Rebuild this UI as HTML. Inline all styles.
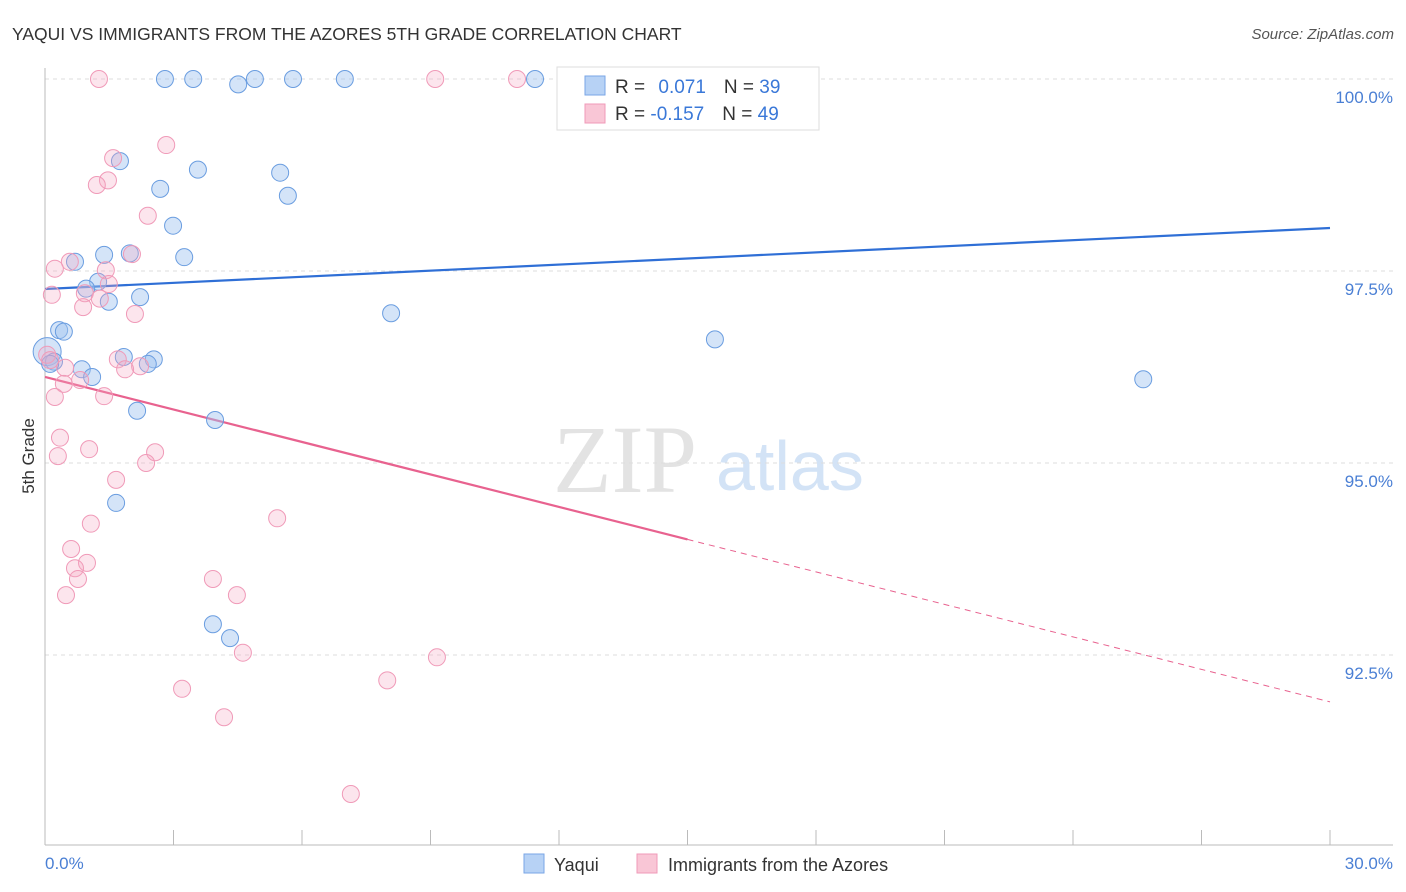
<!DOCTYPE html>
<html><head><meta charset="utf-8"><style>
body{margin:0;background:#fff;font-family:"Liberation Sans",sans-serif}
svg{display:block}
</style></head><body>
<svg width="1406" height="892" viewBox="0 0 1406 892">
<text x="12" y="40" font-size="17.5" fill="#333">YAQUI VS IMMIGRANTS FROM THE AZORES 5TH GRADE CORRELATION CHART</text>
<text x="1394" y="39" font-size="15" fill="#555" font-style="italic" text-anchor="end">Source: ZipAtlas.com</text>
<g>
<text x="553" y="492" font-size="96" font-family="Liberation Serif,serif" fill="#e3e3e3">ZIP</text>
<text x="716" y="490" font-size="70" fill="#d3e3f6">atlas</text>
</g>
<g id="grid"></g>
<g id="axes"></g>
<g id="lines"></g>
<g id="pts"></g>
<text transform="translate(34,456) rotate(-90)" font-size="17" fill="#333" text-anchor="middle">5th Grade</text>
<text x="45" y="869" font-size="17" fill="#4a7fd4">0.0%</text>
<text x="1393" y="869" font-size="17" fill="#4a7fd4" text-anchor="end">30.0%</text>
<g>
<rect x="557" y="67" width="262" height="63" fill="#fff" stroke="#ddd"/>
<rect x="585" y="76" width="20" height="19" fill="#b7d2f5" stroke="#7aa6e6"/>
<rect x="585" y="104" width="20" height="19" fill="#f9c6d6" stroke="#f09ab8"/>
<text x="615" y="93" font-size="19" fill="#333">R = <tspan fill="#3a78d8" dx="8">0.071</tspan><tspan dx="18" fill="#333">N = </tspan><tspan fill="#3a78d8">39</tspan></text>
<text x="615" y="120" font-size="19" fill="#333">R = <tspan fill="#3a78d8">-0.157</tspan><tspan dx="18" fill="#333">N = </tspan><tspan fill="#3a78d8">49</tspan></text>
</g>
<g>
<rect x="524" y="854" width="20" height="19" fill="#b7d2f5" stroke="#7aa6e6"/>
<text x="554" y="871" font-size="18" fill="#333">Yaqui</text>
<rect x="637" y="854" width="20" height="19" fill="#f9c6d6" stroke="#f09ab8"/>
<text x="668" y="871" font-size="18" fill="#333">Immigrants from the Azores</text>
</g>
</svg>
<script>
const yTicks=[100,97.5,95,92.5];
const yTickLabels=["100.0%","97.5%","95.0%","92.5%"];
const xTicks=[0,3,6,9,12,15,18,21,24,27,30];
const yaquiX=[2.80,3.46,4.51,4.90,5.79,7.00,11.44,1.75,2.69,3.57,2.99,3.25,5.49,5.67,1.38,0.70,1.98,1.24,0.96,2.22,1.49,8.08,0.33,0.44,0.05,0.21,1.84,2.54,2.40,0.86,1.10,2.15,3.97,1.66,3.92,4.32,15.64,25.64,0.12];
const yaquiY=[100,100,99.93,100,100,100,100,98.93,98.57,98.82,98.09,97.68,98.78,98.48,97.71,97.62,97.73,97.36,97.27,97.16,97.10,96.95,96.73,96.71,96.45,96.32,96.38,96.35,96.29,96.22,96.12,95.68,95.56,94.48,92.90,92.72,96.61,96.09,96.29];
const azoresX=[1.26,9.11,11.02,2.83,1.59,1.47,1.21,2.40,2.03,0.58,0.23,1.42,0.93,1.49,0.16,1.28,0.89,2.10,1.70,2.22,1.87,0.05,0.47,0.82,0.44,1.38,0.23,0.35,1.03,2.57,0.30,2.36,1.66,1.07,5.42,0.61,0.98,0.70,0.77,3.92,0.49,4.48,4.62,9.15,3.20,7.99,4.18,7.14,0.12];
const azoresY=[100,100,100,99.14,98.97,98.68,98.62,98.22,97.72,97.62,97.53,97.51,97.21,97.33,97.19,97.14,97.03,96.94,96.35,96.26,96.22,96.41,96.24,96.08,96.03,95.87,95.86,95.33,95.18,95.14,95.09,95.00,94.78,94.21,94.28,93.88,93.70,93.63,93.49,93.49,93.28,93.28,92.53,92.47,92.06,92.17,91.69,90.69,96.34];
const yaquiTrend=[97.266,98.06];
const azoresTrend=[96.12,91.89];
const azoresSolidEnd=15.0;
const NS="http://www.w3.org/2000/svg";
const sx=v=>45+v*(1285/30);
const sy=v=>79+(100-v)*76.8;
function mk(t,a,p){const e=document.createElementNS(NS,t);for(const k in a)e.setAttribute(k,a[k]);p.appendChild(e);return e;}
const grid=document.getElementById('grid');
yTicks.forEach((t,i)=>{
 const l=mk('line',{x1:45,x2:1393,y1:sy(t),y2:sy(t),stroke:'#ddd','stroke-dasharray':'4,4'},grid);
 
 
 const tx=mk('text',{x:1393,y:sy(t)+24,'font-size':17,fill:'#4a7fd4','text-anchor':'end'},grid);
 tx.textContent=yTickLabels[i];
 
 
});
const axes=document.getElementById('axes');
const ya=mk('line',{x1:45,x2:45,y1:68,y2:845,stroke:'#bbb'},axes);


const xa=mk('line',{x1:45,x2:1393,y1:845,y2:845,stroke:'#bbb'},axes);


xTicks.forEach(t=>{
 const l=mk('line',{x1:sx(t),x2:sx(t),y1:830,y2:845,stroke:'#bbb'},axes);
 
 
});
const pts=document.getElementById('pts');
yaquiX.forEach((x,i)=>{
 const big=(i===24);
 const c=mk('circle',{cx:sx(x),cy:sy(yaquiY[i]),r:big?14:8.5,fill:'rgba(160,196,240,0.45)',stroke:'#6a9de0','stroke-width':1},pts);
 
 
});
azoresX.forEach((x,i)=>{
 const c=mk('circle',{cx:sx(x),cy:sy(azoresY[i]),r:8.5,fill:'rgba(244,170,195,0.3)',stroke:'#f09ab8','stroke-width':1},pts);
 
 
});
const lines=document.getElementById('lines');
const bl=mk('line',{x1:sx(0),y1:sy(yaquiTrend[0]),x2:sx(30),y2:sy(yaquiTrend[1]),stroke:'#2f6fd6','stroke-width':2.2},lines);


const pAt=x=>azoresTrend[0]+(azoresTrend[1]-azoresTrend[0])*x/30;
const pl=mk('line',{x1:sx(0),y1:sy(pAt(0)),x2:sx(azoresSolidEnd),y2:sy(pAt(azoresSolidEnd)),stroke:'#e8628f','stroke-width':2.2},lines);


const pd=mk('line',{x1:sx(azoresSolidEnd),y1:sy(pAt(azoresSolidEnd)),x2:sx(30),y2:sy(pAt(30)),stroke:'#e8628f','stroke-width':1,'stroke-dasharray':'6,5'},lines);


</script>
</body></html>
